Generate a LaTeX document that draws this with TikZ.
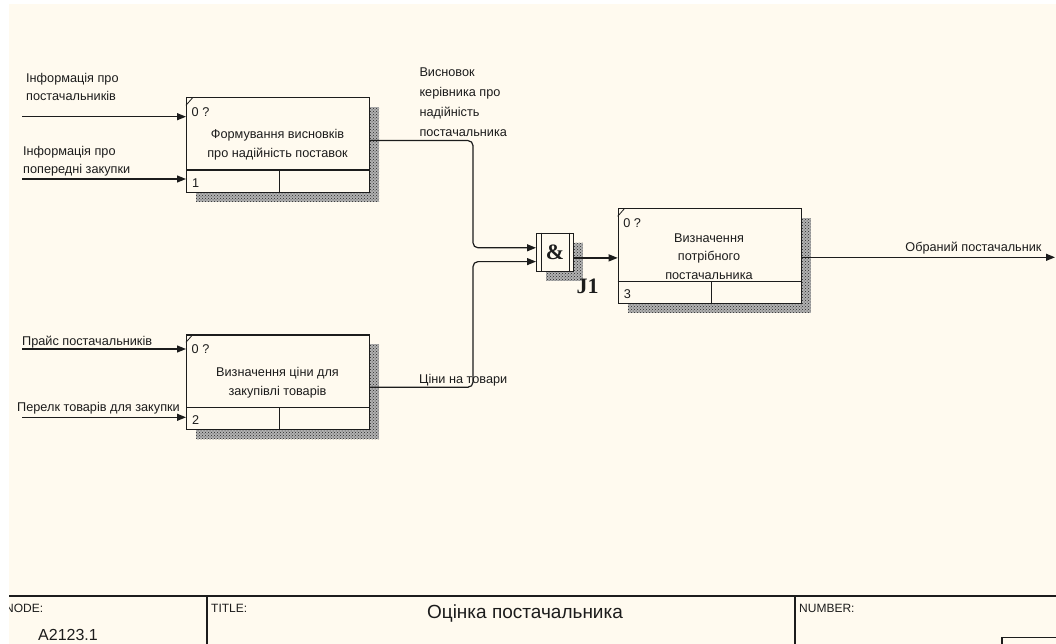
\documentclass[tikz,border=0pt]{standalone}
\usepackage{fontspec}
\setmainfont{Liberation Sans}
\newfontfamily\serifb{Liberation Serif}
\usetikzlibrary{arrows.meta,patterns,calc}
\definecolor{bgc}{RGB}{255,250,239}
\definecolor{ink}{RGB}{28,28,28}
\begin{document}
\begin{tikzpicture}[x=1pt,y=-1pt,
  every node/.style={text=ink},
  lw/.style={line width=1.2pt, draw=ink},
  shade/.style={preaction={fill=black!30}, pattern=crosshatch dots, pattern color=black!85},
  fbox/.style={lw, fill=bgc, anchor=north west, inner sep=0pt, minimum width=183pt, minimum height=94.6pt},
  jbox/.style={lw, fill=bgc, anchor=north west, inner sep=0pt, minimum width=36.7pt, minimum height=38pt,
     font=\serifb\bfseries\fontsize{22}{22}\selectfont},
  lbl/.style={font=\fontsize{12.7}{18}\selectfont, inner sep=0pt, align=left, anchor=north west},
  ttl/.style={font=\fontsize{12.7}{18.5}\selectfont, inner sep=0pt, align=center},
  idx/.style={font=\fontsize{12.7}{15}\selectfont, inner sep=0pt, anchor=west},
  conn/.style={lw, rounded corners=5pt},
  arr/.style={lw, -{Triangle[length=9pt,width=7pt]}},
  ftxt/.style={font=\fontsize{12}{14}\selectfont, inner sep=0pt, anchor=west}
]
\useasboundingbox (0,0) rectangle (1056,644);
\fill[white] (0,0) rectangle (1056,644);
\fill[bgc] (9,4) rectangle (1056,644);

% shadows
\fill[shade] (196,107.3) rectangle (379,202);
\fill[shade] (196,344.3) rectangle (379,439);
\fill[shade] (627.7,218.3) rectangle (810.7,312.9);
\fill[shade] (546,242.7) rectangle (582.7,280.7);

% activity boxes
\node[fbox] (b1) at (186,97.3) {};
\node[fbox] (b2) at (186,334.3) {};
\node[fbox] (b3) at (617.7,208.3) {};

\foreach \b/\n in {b1/1,b2/2,b3/3}{
  \draw[lw] ([yshift=23pt]\b.south west) -- ([yshift=23pt]\b.south east);
  \draw[lw] ([xshift=1.5pt]\b.south) -- ([xshift=1.5pt,yshift=23pt]\b.south);
  \draw[lw, line width=0.8pt] ([yshift=-8pt]\b.north west) -- ([xshift=7pt]\b.north west);
  \node[idx] (\b q) at ([xshift=5.5pt,yshift=-14.4pt]\b.north west) {0 ?};
  \node[idx] (\b i) at ([xshift=6pt,yshift=10pt]\b.south west) {\n};
}

\node[ttl] (b1t) at (277.5,144.5) {Формування висновків\\про надійність поставок};
\node[ttl] (b2t) at (277.5,382.7) {Визначення ціни для\\закупівлі товарів};
\begin{scope}
  \clip (617.7,208.3) rectangle (800,279.4);
  \node[ttl] (b3t) at (709,256.5) {Визначення\\потрібного\\постачальника};
\end{scope}

% junction
\node[jbox] (jn) at (536,232.7) {\&};
\draw[lw] ([xshift=5.7pt]jn.north west) -- ([xshift=5.7pt]jn.south west);
\draw[lw] ([xshift=-4.7pt]jn.north east) -- ([xshift=-4.7pt]jn.south east);
\node[font=\serifb\bfseries\fontsize{22}{22}\selectfont, inner sep=0pt] (j1) at (587.5,286.5) {J1};

% inputs
\coordinate (i1) at (22,116.7);
\coordinate (i2) at (22,179);
\coordinate (i3) at (22,349);
\coordinate (i4) at (22,417.3);
\draw[arr] (i1) -- (i1 -| b1.west);
\draw[arr] (i2) -- (i2 -| b1.west);
\draw[arr] (i3) -- (i3 -| b2.west);
\draw[arr] (i4) -- (i4 -| b2.west);

\node[lbl] (l1) at (26,73.5) {Інформація про\\постачальників};
\node[lbl] (l2) at (23,146.5) {Інформація про\\попередні закупки};
\node[lbl] (l3) at (22,335.5) {Прайс постачальників};
\node[lbl] (l4) at (17,402.5) {Перелк товарів для закупки};

% connectors to junction
\coordinate (k1) at ([xshift=-63pt,yshift=4.5pt]jn.west);
\coordinate (k2) at ([xshift=-63pt,yshift=-9.3pt]jn.west);
\draw[conn] ([yshift=4.6pt]b1.east) -| (k1) -- ([xshift=-8pt]k1 -| jn.west);
\draw[arr] ([xshift=-8pt]k1 -| jn.west) -- (k1 -| jn.west);
\draw[conn] ([yshift=-5pt]b2.east) -| (k2) -- ([xshift=-8pt]k2 -| jn.west);
\draw[arr] ([xshift=-8pt]k2 -| jn.west) -- (k2 -| jn.west);

\node[lbl, font=\fontsize{12.7}{19.7}\selectfont] (l5) at (419.3,68) {Висновок\\керівника про\\надійність\\постачальника};
\node[lbl] (l6) at (419,374) {Ціни на товари};

% junction to box 3
\coordinate (k3) at ([yshift=-5.6pt]jn.east);
\draw[arr] (k3) -- (k3 -| b3.west);

% output
\coordinate (o3) at (1055,257.3);
\draw[arr] (o3 -| b3.east) -- (o3);
\node[lbl, anchor=north east] (l7) at (1041.7,241.5) {Обраний постачальник};

% footer
\begin{scope}
  \clip (9,4) rectangle (1056,644);
  \draw[lw] (9,596) -- (1056,596);
  \draw[lw] (207,596) -- (207,644);
  \draw[lw] (795,596) -- (795,644);
  \draw[lw] (1002,644) -- (1002,637.3) -- (1056,637.3);
  \node[ftxt] (fn) at (5,608.5) {NODE:};
  \node[ftxt] (ft) at (211,608.5) {TITLE:};
  \node[ftxt] (fu) at (799,608.5) {NUMBER:};
  \node[font=\fontsize{19}{22}\selectfont, inner sep=0pt] (ftt) at (525,613.3) {Оцінка постачальника};
  \node[font=\fontsize{16}{18}\selectfont, inner sep=0pt, anchor=west] (fa) at (38,635) {A2123.1};
\end{scope}
\end{tikzpicture}
\end{document}
